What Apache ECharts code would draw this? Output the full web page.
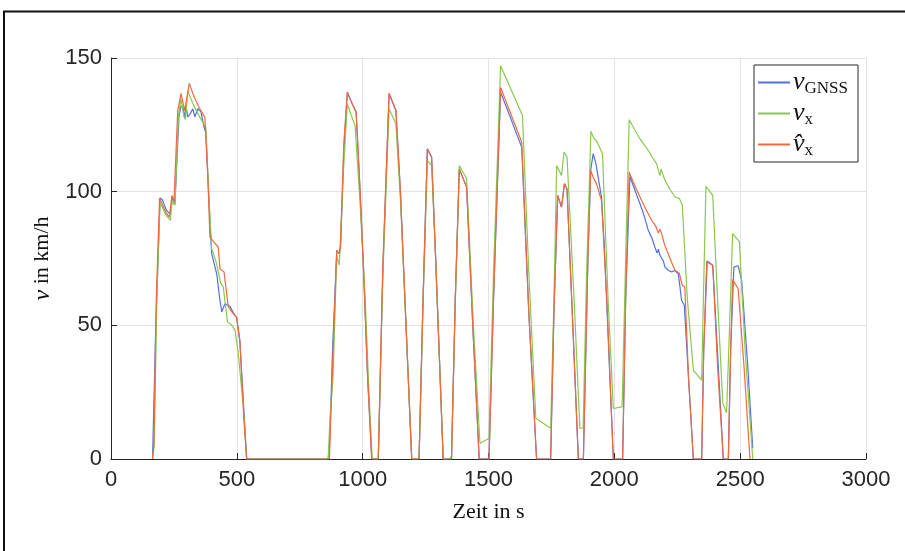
<!DOCTYPE html>
<html>
<head>
<meta charset="utf-8">
<script src="https://cdn.jsdelivr.net/npm/echarts@6/dist/echarts.min.js"></script>
<style>
  html, body { margin: 0; padding: 0; background: #fff; }
  #chart { width: 905px; height: 551px; }
</style>
</head>
<body>
<div id="chart"></div>
<script>
// x ticks (s) and y ticks (km/h)
const xTicks = [0, 500, 1000, 1500, 2000, 2500, 3000];
const yTicks = [0, 50, 100, 150];

// v_GNSS: [time in s, speed in km/h]
const vGnss = [
  [165, 0], [170, 0], [178, 50], [195, 97.6], [204, 97], [220, 93], [234, 91.7], [245, 98], [254, 95.5],
  [270, 128], [278, 132], [286, 131.5], [293, 127.5], [298, 132], [305, 128], [314, 129], [325, 131],
  [333, 128], [345, 131], [357, 130], [370, 124], [377, 122], [390, 95], [400, 76.8], [420, 69.3],
  [432, 60], [440, 55], [453, 58.1], [465, 57.5], [473, 57], [490, 54], [499, 53], [512, 44], [530, 15], [539, 0],
  [863, 0], [870, 8], [880, 40], [897, 78], [907, 76.8], [912, 79], [925, 115], [939, 137.2], [956, 133.4],
  [974, 129.7], [990, 100], [1003, 71.8], [1020, 30], [1036, 0],
  [1062, 0], [1080, 70], [1105, 136.6], [1132, 130.3], [1150, 100], [1170, 55], [1195, 0],
  [1224, 0], [1240, 60], [1257, 116], [1274, 112.9], [1290, 75], [1320, 0],
  [1353, 0], [1368, 60], [1384, 108.5], [1413, 101.7], [1440, 45], [1463, 0],
  [1502, 0], [1520, 60], [1548, 137.2], [1580, 129.5], [1610, 122], [1632, 116.6], [1660, 55], [1691, 0],
  [1747, 0], [1760, 55], [1775, 98.6], [1790, 94.2], [1802, 103], [1812, 101], [1835, 50], [1857, 0],
  [1877, 0], [1895, 75], [1906, 108], [1916, 114.2], [1927, 110.4], [1940, 103], [1949, 98], [1960, 80], [1996, 0],
  [2033, 0], [2045, 60], [2062, 105.7], [2080, 101], [2102, 95.5], [2120, 90.5], [2135, 85.5], [2150, 82.5],
  [2161, 79.3], [2170, 77], [2175, 78.5], [2181, 76.2], [2195, 74], [2201, 71.8], [2215, 70.5], [2228, 70],
  [2240, 70.5], [2254, 69.3], [2260, 65], [2267, 59.4], [2278, 57.5], [2295, 30], [2314, 0],
  [2347, 0], [2355, 40], [2369, 74.1], [2391, 72.5], [2410, 40], [2433, 0],
  [2453, 0], [2462, 40], [2475, 71.8], [2492, 72.3], [2506, 66.8], [2530, 35], [2550, 4]
];

// v_x
const vX = [
  [165, 0], [172, 5], [182, 60], [195, 96], [205, 94], [220, 91], [236, 89.3], [242, 96], [254, 94.9],
  [268, 128], [278, 134.7], [290, 128], [296, 127], [305, 137.6], [330, 132], [355, 127.5], [377, 124],
  [388, 100], [400, 78.7], [420, 73], [435, 66], [446, 64.4], [463, 51.3], [480, 50], [493, 48.2],
  [505, 40], [526, 19.5], [539, 0],
  [863, 0], [870, 15], [876, 14.6], [882, 30], [897, 76], [907, 72.5], [910, 71.8], [925, 110], [939, 132.8],
  [955, 128.5], [970, 124.7], [990, 95], [1010, 60], [1025, 25], [1038, 0],
  [1062, 0], [1080, 68], [1105, 131], [1132, 125.4], [1150, 97], [1170, 55], [1195, 0],
  [1224, 0], [1240, 58], [1257, 111.7], [1274, 109.8], [1290, 75], [1320, 0],
  [1345, 0], [1353, 1], [1368, 58], [1384, 109.8], [1413, 104.8], [1440, 50], [1466, 5.9], [1502, 7.7],
  [1520, 70], [1548, 147.1], [1635, 128.5], [1660, 70], [1688, 15.2], [1747, 11.5],
  [1760, 60], [1771, 109.8], [1790, 106], [1800, 114.8], [1812, 113], [1840, 60], [1863, 11.5], [1876, 11.5],
  [1890, 70], [1907, 122.6], [1916, 120.4], [1932, 118.5], [1953, 114.2], [1975, 60], [1996, 18.9], [2031, 19.5],
  [2045, 75], [2059, 126.9], [2100, 120], [2135, 115.4], [2150, 113], [2168, 110.4], [2175, 108], [2181, 106],
  [2186, 108.5], [2200, 104.5], [2220, 101], [2241, 98], [2258, 97.5], [2270, 95], [2274, 94.9], [2290, 60],
  [2314, 33.2], [2347, 29.5], [2355, 65], [2364, 102], [2391, 98.6], [2410, 60], [2431, 20.8], [2446, 17.3],
  [2458, 50], [2470, 84.3], [2497, 81.2], [2520, 40], [2550, 0]
];

// v^_x (estimate)
const vXHat = [
  [165, 0], [170, 5], [180, 60], [193, 97.6], [205, 95], [220, 92], [232, 90.5], [242, 98.6], [250, 96],
  [265, 130], [278, 136.8], [293, 130.3], [311, 140.5], [330, 135.5], [350, 131.5], [373, 127.8], [385, 105],
  [393, 83], [410, 81], [426, 79.3], [433, 71.2], [449, 70], [466, 57], [480, 55], [499, 53], [512, 44.4],
  [528, 15], [539, 0],
  [868, 0], [874, 18.3], [880, 18.5], [890, 60], [897, 78], [907, 76.8], [912, 80], [925, 118], [939, 137.2],
  [956, 133.4], [974, 129.7], [990, 100], [1003, 71.8], [1020, 30], [1036, 0],
  [1062, 0], [1080, 72], [1105, 136.8], [1132, 130.5], [1150, 100], [1170, 55], [1195, 0],
  [1224, 0], [1240, 60], [1257, 116], [1274, 112.9], [1290, 75], [1320, 0],
  [1353, 0], [1368, 60], [1384, 108.5], [1413, 101.7], [1440, 45], [1463, 0],
  [1502, 0], [1520, 60], [1548, 139], [1632, 118.5], [1660, 55], [1691, 0],
  [1747, 0], [1760, 55], [1775, 98.6], [1790, 94.2], [1802, 103], [1812, 101], [1835, 50], [1857, 0],
  [1877, 0], [1895, 75], [1906, 107.9], [1916, 105.4], [1929, 103], [1949, 96.7], [1970, 60], [1996, 0],
  [2033, 0], [2045, 60], [2059, 107.3], [2080, 102.5], [2102, 98], [2125, 93.5], [2148, 89.3], [2165, 87],
  [2175, 84.5], [2181, 86], [2188, 84.3], [2200, 80], [2214, 76.8], [2230, 73], [2241, 70.6], [2258, 69.5],
  [2270, 65], [2280, 64.4], [2295, 30], [2314, 0],
  [2347, 0], [2355, 40], [2367, 73.7], [2391, 72.5], [2394, 67], [2410, 35], [2433, 0],
  [2453, 0], [2462, 40], [2470, 67.1], [2492, 63.7], [2515, 35], [2539, 0]
];

const seriesNames = ['gnss', 'vx', 'vxhat'];
const seriesColors = ['#4f72e3', '#88c94f', '#ef6a3c'];

const serif = '"Liberation Serif", "DejaVu Serif", serif';
const sans = '"Liberation Sans", Arial, sans-serif';
const legendRich = {
  v: { fontFamily: serif, fontStyle: 'italic', fontSize: 26, color: '#111', lineHeight: 30 },
  vh: { fontFamily: serif, fontStyle: 'italic', fontSize: 26, color: '#111', lineHeight: 30 },
  s: { fontFamily: serif, fontSize: 17, color: '#111', lineHeight: 30, padding: [12, 0, 0, 0] }
};
const legendText = {
  gnss: '{v|v}{s|GNSS}',
  vx: '{v|v}{s|x}',
  vxhat: '{vh|v\u0302}{s|x}'
};

let chart = echarts.init(document.getElementById('chart'));
let option = {
  animation: false,
  backgroundColor: '#fff',
  graphic: [{
    type: 'rect',
    shape: { x: 4, y: 11.5, width: 1000, height: 1000 },
    style: { fill: 'none', stroke: '#111', lineWidth: 2 },
    silent: true
  }],
  grid: { left: 111, right: 39, top: 58, bottom: 92 },
  legend: {
    data: seriesNames,
    orient: 'vertical',
    left: 754,
    top: 65,
    padding: [3, 10, 3, 4],
    itemGap: 2,
    itemWidth: 32,
    itemHeight: 2,
    icon: 'rect',
    backgroundColor: '#fff',
    borderColor: '#262626',
    borderWidth: 1,
    formatter: function(name) {
      return legendText[name];
    },
    textStyle: { rich: legendRich, padding: [0, 0, 0, -2] }
  },
  xAxis: {
    type: 'value',
    min: xTicks[0],
    max: xTicks[xTicks.length - 1],
    interval: 500,
    name: 'Zeit in s',
    nameLocation: 'middle',
    nameGap: 42,
    nameTextStyle: { fontFamily: serif, fontSize: 22, color: '#111', verticalAlign: 'top' },
    axisLine: { lineStyle: { color: '#262626', width: 1 } },
    axisTick: { inside: true, length: 6, lineStyle: { color: '#262626' } },
    axisLabel: {
      fontFamily: sans, fontSize: 22, color: '#262626', margin: 10,
      formatter: function(v) { return String(v); }
    },
    splitLine: { show: true, lineStyle: { color: '#e3e3e3', width: 1 } }
  },
  yAxis: {
    type: 'value',
    min: yTicks[0],
    max: yTicks[yTicks.length - 1],
    interval: 50,
    name: '{i|v} in km/h',
    nameLocation: 'middle',
    nameRotate: 90,
    nameGap: 48,
    nameTextStyle: {
      fontFamily: serif, fontSize: 22, color: '#111',
      rich: { i: { fontFamily: serif, fontStyle: 'italic', fontSize: 24, color: '#111' } }
    },
    axisLine: { show: true, lineStyle: { color: '#262626', width: 1 } },
    axisTick: { show: true, inside: true, length: 6, lineStyle: { color: '#262626' } },
    axisLabel: {
      fontFamily: sans, fontSize: 22, color: '#262626', margin: 9,
      formatter: function(v) { return String(v); }
    },
    splitLine: { show: true, lineStyle: { color: '#e3e3e3', width: 1 } }
  },
  series: [
    { name: 'gnss', type: 'line', data: vGnss },
    { name: 'vx', type: 'line', data: vX },
    { name: 'vxhat', type: 'line', data: vXHat }
  ].map(function(s, i) {
    s.showSymbol = false;
    s.symbol = 'none';
    s.color = seriesColors[i];
    s.lineStyle = { width: 1.2, color: seriesColors[i] };
    return s;
  })
};
chart.setOption(option);
</script>
</body>
</html>
